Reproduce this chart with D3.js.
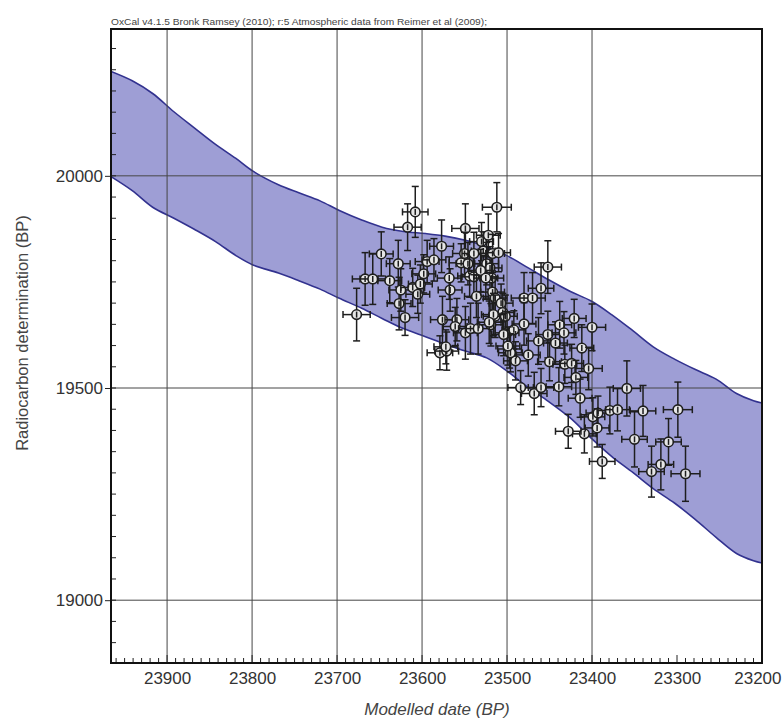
<!DOCTYPE html>
<html><head><meta charset="utf-8">
<script src="https://cdn.jsdelivr.net/npm/d3@7/dist/d3.min.js"></script>
<style>body{margin:0;background:#fff}</style>
</head><body><svg id="c" width="782" height="722"></svg>
<script>
const headerText = "OxCal v4.1.5 Bronk Ramsey (2010); r:5 Atmospheric data from Reimer et al (2009);";
const xTitle = "Modelled date (BP)";
const yTitle = "Radiocarbon determination (BP)";
const xTicks = [23900,23800,23700,23600,23500,23400,23300,23200];
const xGrid = [23900,23800,23700,23600,23500,23400];
const yTicks = [19000,19500,20000];

const bandYears = [23966,23941,23917,23892,23868,23843,23819,23799,23769,23745,23720,23698,23671,23647,23622,23596,23573,23549,23524,23500,23475,23451,23426,23401,23377,23352,23328,23303,23279,23254,23230,23210,23196];
const bandUpper = [20246,20224,20194,20151,20113,20074,20041,20011,19979,19960,19941,19919,19896,19879,19869,19864,19858,19848,19833,19812,19783,19755,19728,19705,19673,19635,19597,19568,19544,19521,19487,19470,19463];
const bandLower = [19998,19965,19926,19900,19874,19845,19812,19790,19771,19753,19733,19712,19688,19664,19640,19621,19604,19587,19571,19540,19501,19468,19430,19382,19339,19301,19263,19229,19191,19148,19110,19093,19086];

const ptYear  = [23677,23667,23658,23648,23638,23628,23627,23625,23620,23617,23608,23611,23605,23602,23598,23594,23586,23577,23567,23576,23579,23571,23559,23561,23554,23549,23550,23546,23544,23539,23549,23543,23536,23534,23530,23528,23524,23522,23520,23518,23517,23512,23510,23517,23514,23507,23505,23519,23514,23502,23500,23497,23492,23490,23496,23480,23470,23480,23475,23484,23468,23460,23460,23452,23463,23452,23450,23443,23438,23433,23439,23432,23424,23421,23419,23412,23414,23409,23428,23404,23400,23399,23393,23394,23388,23379,23370,23359,23350,23340,23330,23319,23310,23299,23290,23568,23572,23539,23531,23525,23516,23504,23499,23521];
const ptValue = [19673,19757,19757,19816,19753,19793,19699,19731,19666,19879,19915,19737,19721,19745,19769,19798,19802,19834,19731,19661,19583,19587,19661,19645,19795,19876,19817,19793,19764,19762,19630,19640,19716,19640,19845,19823,19793,19860,19783,19759,19817,19926,19819,19726,19712,19700,19678,19649,19669,19669,19630,19592,19637,19564,19583,19712,19712,19651,19578,19501,19487,19501,19735,19785,19611,19626,19562,19606,19649,19630,19503,19556,19558,19664,19525,19594,19476,19392,19398,19546,19643,19432,19441,19406,19327,19447,19449,19499,19379,19446,19303,19320,19373,19449,19298,19759,19597,19817,19777,19759,19673,19626,19599,19655];
const ptYearErr = [16,15,15,14,14,14,14,14,16,16,15,14,14,14,14,14,14,14,14,14,15,14,14,14,14,16,14,14,14,14,14,14,14,14,14,14,14,14,14,14,14,17,14,14,14,14,14,14,14,14,14,14,14,14,14,15,15,14,14,15,15,15,15,16,14,14,14,14,14,14,15,14,14,14,14,14,14,14,15,16,16,14,14,14,15,14,14,16,15,15,15,15,15,17,17,14,14,14,14,14,14,14,14,14];
const ptValueErr = [62,62,60,52,52,55,62,50,42,55,60,45,45,45,45,50,50,62,50,55,40,45,50,45,45,58,50,50,50,50,62,60,50,60,45,45,50,50,50,50,45,58,45,50,50,45,45,50,50,50,50,45,45,45,45,60,60,50,50,40,50,45,60,62,55,55,45,50,55,50,45,45,45,45,40,55,45,45,40,50,55,45,40,45,40,55,50,65,65,60,60,60,55,65,65,50,40,50,50,50,50,50,45,50];

const W = 782, H = 722;
const M = {left:111, right:762, top:29, bottom:663};
const FONT = "Liberation Sans, Arial, sans-serif";
const svg = d3.select("#c");
const x = d3.scaleLinear().domain([23966, 23200]).range([M.left, M.right]);
const y = d3.scaleLinear().domain([18852, 20346]).range([M.bottom, M.top]);

svg.append("defs").append("clipPath").attr("id","pc").append("rect")
  .attr("x",M.left).attr("y",M.top).attr("width",M.right-M.left).attr("height",M.bottom-M.top);

// header
svg.append("text").attr("x",M.left).attr("y",M.top-4)
  .attr("font-family",FONT).attr("font-size",9)
  .attr("fill","#444").attr("textLength",376).attr("lengthAdjust","spacingAndGlyphs")
  .text(headerText);

// band
const band = bandYears.map((yr,i)=>({yr, hi:bandUpper[i], lo:bandLower[i]}));
const area = d3.area().x(d=>x(d.yr)).y0(d=>y(d.lo)).y1(d=>y(d.hi)).curve(d3.curveCatmullRom);
const g = svg.append("g").attr("clip-path","url(#pc)");
g.append("path").datum(band).attr("d",area).attr("fill","#9e9ed5");
g.append("path").datum(band).attr("d",d3.line().x(d=>x(d.yr)).y(d=>y(d.hi)).curve(d3.curveCatmullRom))
  .attr("fill","none").attr("stroke","#32328f").attr("stroke-width",1.6);
g.append("path").datum(band).attr("d",d3.line().x(d=>x(d.yr)).y(d=>y(d.lo)).curve(d3.curveCatmullRom))
  .attr("fill","none").attr("stroke","#32328f").attr("stroke-width",1.6);

// grid
g.selectAll(".vg").data(xGrid).join("line")
  .attr("x1",d=>x(d)).attr("x2",d=>x(d)).attr("y1",M.top).attr("y2",M.bottom)
  .attr("stroke","#464646").attr("stroke-width",1);
g.selectAll(".hg").data(yTicks).join("line")
  .attr("x1",M.left).attr("x2",M.right).attr("y1",d=>y(d)).attr("y2",d=>y(d))
  .attr("stroke","#464646").attr("stroke-width",1);

// minor ticks
const xMinor = d3.range(23960, 23199, -10);
svg.append("g").selectAll("line").data(xMinor).join("line")
  .attr("x1",d=>x(d)).attr("x2",d=>x(d)).attr("y1",M.bottom).attr("y2",d=> d%100===0 ? M.bottom-8 : M.bottom-5)
  .attr("stroke","#222").attr("stroke-width",1);
const yMinor = d3.range(18900, 20346, 50);
svg.append("g").selectAll("line").data(yMinor).join("line")
  .attr("x1",M.left).attr("x2",M.left+5).attr("y1",d=>y(d)).attr("y2",d=>y(d))
  .attr("stroke","#222").attr("stroke-width",1);

// axes
const xAxis = d3.axisBottom(x).tickValues(xTicks).tickSize(0).tickPadding(9).tickFormat(d3.format("d"));
const xg = svg.append("g").attr("transform",`translate(0,${M.bottom})`).call(xAxis);
xg.select(".domain").remove();
xg.selectAll("text").attr("font-family",FONT).attr("font-size",17).attr("fill","#333");
xg.selectAll(".tick").filter(d=>d===23200).select("text").attr("text-anchor","end").attr("x",W-1-x(23200));
const yAxis = d3.axisLeft(y).tickValues(yTicks).tickSize(6).tickPadding(2).tickFormat(d3.format("d"));
const yg = svg.append("g").attr("transform",`translate(${M.left},0)`).call(yAxis);
yg.select(".domain").remove();
yg.selectAll("line").attr("stroke","#222");
yg.selectAll("text").attr("font-family",FONT).attr("font-size",17).attr("fill","#333");

// frame
svg.append("rect").attr("x",M.left).attr("y",M.top).attr("width",M.right-M.left).attr("height",M.bottom-M.top)
  .attr("fill","none").attr("stroke","#111").attr("stroke-width",2);

// titles
svg.append("text").attr("x",437).attr("y",M.bottom+52).attr("text-anchor","middle")
  .attr("font-family",FONT).attr("font-size",17).attr("font-style","italic")
  .attr("fill","#444").text(xTitle);
svg.append("text").attr("transform",`translate(28,${y(19500)-55}) rotate(-90)`).attr("text-anchor","middle")
  .attr("font-family",FONT).attr("font-size",16.5)
  .attr("fill","#444").text(yTitle);

// points
const pts = ptYear.map((yr,i)=>({yr, v:ptValue[i], ex:ptYearErr[i], ey:ptValueErr[i]}));
const pg = svg.append("g").attr("clip-path","url(#pc)");
const col = "#1e1e1e", cap = 3.5;
const pe = pg.selectAll("g").data(pts).join("g");
pe.append("line").attr("x1",d=>x(d.yr)).attr("x2",d=>x(d.yr)).attr("y1",d=>y(d.v-d.ey)).attr("y2",d=>y(d.v+d.ey)).attr("stroke",col).attr("stroke-width",1.5);
pe.append("line").attr("x1",d=>x(d.yr+d.ex)).attr("x2",d=>x(d.yr-d.ex)).attr("y1",d=>y(d.v)).attr("y2",d=>y(d.v)).attr("stroke",col).attr("stroke-width",1.5);
pe.append("line").attr("x1",d=>x(d.yr)-cap).attr("x2",d=>x(d.yr)+cap).attr("y1",d=>y(d.v-d.ey)).attr("y2",d=>y(d.v-d.ey)).attr("stroke",col).attr("stroke-width",1.5);
pe.append("line").attr("x1",d=>x(d.yr)-cap).attr("x2",d=>x(d.yr)+cap).attr("y1",d=>y(d.v+d.ey)).attr("y2",d=>y(d.v+d.ey)).attr("stroke",col).attr("stroke-width",1.5);
pe.append("line").attr("x1",d=>x(d.yr+d.ex)).attr("x2",d=>x(d.yr+d.ex)).attr("y1",d=>y(d.v)-cap).attr("y2",d=>y(d.v)+cap).attr("stroke",col).attr("stroke-width",1.5);
pe.append("line").attr("x1",d=>x(d.yr-d.ex)).attr("x2",d=>x(d.yr-d.ex)).attr("y1",d=>y(d.v)-cap).attr("y2",d=>y(d.v)+cap).attr("stroke",col).attr("stroke-width",1.5);
pe.append("circle").attr("cx",d=>x(d.yr)).attr("cy",d=>y(d.v)).attr("r",4.8).attr("fill","#e6e6e6").attr("stroke",col).attr("stroke-width",1.6);
pe.append("line").attr("x1",d=>x(d.yr)).attr("x2",d=>x(d.yr)).attr("y1",d=>y(d.v)-3).attr("y2",d=>y(d.v)+3).attr("stroke",col).attr("stroke-width",1.5);
</script>
</body></html>
